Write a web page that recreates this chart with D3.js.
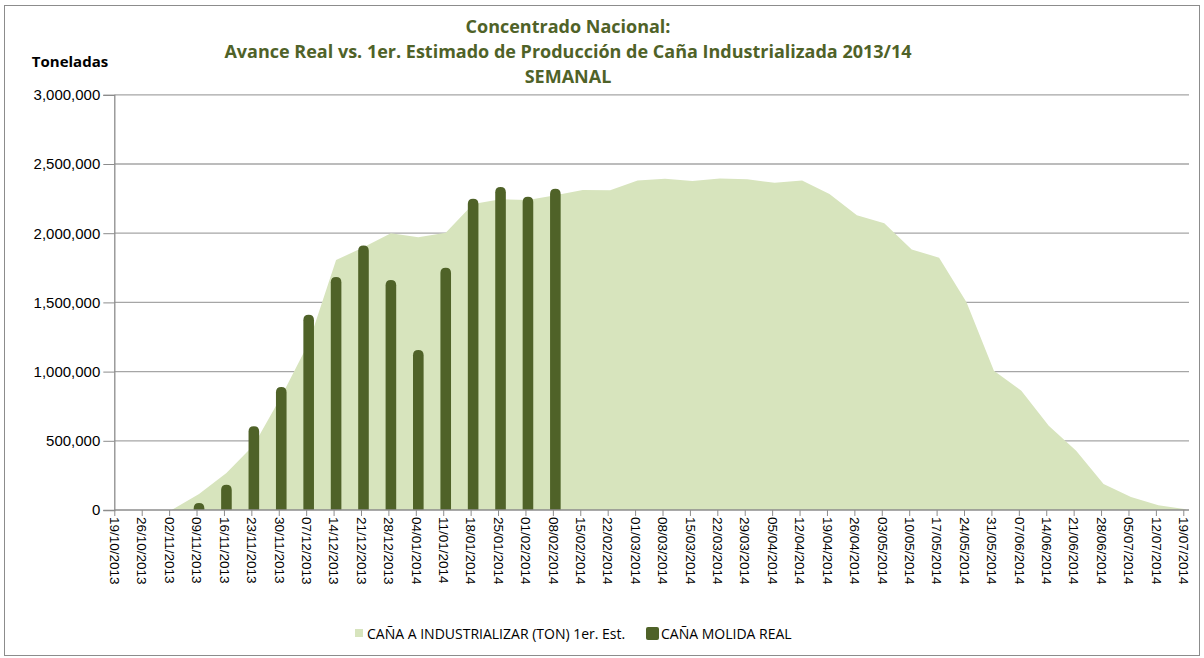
<!DOCTYPE html>
<html>
<head>
<meta charset="utf-8">
<script src="https://cdn.jsdelivr.net/npm/d3@7"></script>
<style>
  body { margin: 0; background: #fff; }
  svg { font-family: "Open Sans", "Noto Sans", sans-serif; }
</style>
</head>
<body>
<div id="vis"></div>
<script>
const FRAME_WIDTH = 1204;
const FRAME_HEIGHT = 658;
const MARGINS = {left: 114.3, right: 15, top: 94.8, bottom: 148};

// weekly categories
const weeks = ["19/10/2013","26/10/2013","02/11/2013","09/11/2013","16/11/2013","23/11/2013","30/11/2013",
  "07/12/2013","14/12/2013","21/12/2013","28/12/2013","04/01/2014","11/01/2014","18/01/2014","25/01/2014",
  "01/02/2014","08/02/2014","15/02/2014","22/02/2014","01/03/2014","08/03/2014","15/03/2014","22/03/2014",
  "29/03/2014","05/04/2014","12/04/2014","19/04/2014","26/04/2014","03/05/2014","10/05/2014","17/05/2014",
  "24/05/2014","31/05/2014","07/06/2014","14/06/2014","21/06/2014","28/06/2014","05/07/2014","12/07/2014",
  "19/07/2014"];

// CAÑA A INDUSTRIALIZAR (TON) 1er. Est.
const estimado = [0, 0, 0, 116000, 268000, 470000, 820000, 1206000, 1806000, 1898000, 1999000, 1970000,
  2004000, 2211000, 2245000, 2240000, 2274000, 2312000, 2310000, 2380000, 2394000, 2377000, 2396000,
  2389000, 2365000, 2380000, 2284000, 2129000, 2071000, 1883000, 1823000, 1501000, 1007000, 862000,
  609000, 429000, 188000, 94000, 34000, 5000];

// CAÑA MOLIDA REAL
const molida = [null, null, null, 51000, 183000, 606000, 888000, 1410000, 1683000, 1912000, 1662000,
  1156000, 1751000, 2249000, 2334000, 2264000, 2322000];

const yTicks = [0, 500000, 1000000, 1500000, 2000000, 2500000, 3000000];

const LIGHT = "#d7e4bd";
const DARK = "#4f6228";

const svg = d3.select("#vis").append("svg")
    .attr("width", FRAME_WIDTH)
    .attr("height", FRAME_HEIGHT);

// outer border
svg.append("rect")
    .attr("x", 4.5).attr("y", 5.5)
    .attr("width", 1195).attr("height", 650)
    .attr("fill", "none").attr("stroke", "#8c8c8c");

const VIS_BOTTOM = FRAME_HEIGHT - MARGINS.bottom;   // 510
const VIS_RIGHT = FRAME_WIDTH - MARGINS.right;       // 1189

const X_SCALE = d3.scalePoint()
    .domain(weeks)
    .range([MARGINS.left, MARGINS.left + 27.41 * (weeks.length - 1)]);
const DX = 2.5; // data points sit slightly right of the tick marks

const Y_SCALE = d3.scaleLinear()
    .domain([0, 3000000])
    .range([VIS_BOTTOM, MARGINS.top]);

// gridlines
svg.append("g")
    .selectAll("line")
    .data(yTicks.slice(1))
    .enter().append("line")
    .attr("x1", MARGINS.left).attr("x2", VIS_RIGHT)
    .attr("y1", d => Y_SCALE(d)).attr("y2", d => Y_SCALE(d))
    .attr("stroke", "#a6a6a6").attr("stroke-width", 1.3);

// area of the estimate
const area = d3.area()
    .x((d, i) => X_SCALE(weeks[i]) + DX)
    .y0(Y_SCALE(0))
    .y1(d => Y_SCALE(d))
    .defined((d, i) => i >= 2);

svg.append("path")
    .datum(estimado)
    .attr("d", area)
    .attr("fill", LIGHT);

// bars with rounded tops
const BAR_W = 10.6;
function barPath(x, y0, y1) {
  const r = Math.min(BAR_W / 2, (y0 - y1));
  const l = x - BAR_W / 2, rt = x + BAR_W / 2;
  return `M${l},${y0} L${l},${y1 + r} Q${l},${y1} ${l + r},${y1} L${rt - r},${y1} Q${rt},${y1} ${rt},${y1 + r} L${rt},${y0} Z`;
}

svg.append("g")
    .selectAll("path")
    .data(molida.map((v, i) => ({v, i})).filter(d => d.v != null))
    .enter().append("path")
    .attr("d", d => barPath(X_SCALE(weeks[d.i]) + DX, Y_SCALE(0), Y_SCALE(d.v)))
    .attr("fill", DARK);

// y axis
const yAxis = svg.append("g")
    .attr("transform", "translate(" + MARGINS.left + ",0)")
    .call(d3.axisLeft(Y_SCALE).tickValues(yTicks).tickSize(11).tickPadding(3)
      .tickFormat(d3.format(",")));
yAxis.select(".domain").attr("stroke", "#8c8c8c").attr("stroke-width", 1.3);
yAxis.selectAll(".tick line").attr("stroke", "#8c8c8c");
yAxis.selectAll("text").attr("font-size", "15px").attr("fill", "#000");

// x axis
const xAxis = svg.append("g")
    .attr("transform", "translate(0," + VIS_BOTTOM + ")")
    .call(d3.axisBottom(X_SCALE).tickSize(6).tickSizeOuter(0));
xAxis.select(".domain").attr("stroke", "#8c8c8c").attr("stroke-width", 1.3)
    .attr("d", `M${MARGINS.left},0H${VIS_RIGHT}`);
xAxis.selectAll(".tick line").attr("stroke", "#8c8c8c");
xAxis.selectAll("text")
    .attr("font-size", "13.5px").attr("fill", "#000")
    .attr("transform", "rotate(90)")
    .attr("x", 7).attr("y", 0).attr("dy", "0.35em")
    .attr("text-anchor", "start");

// titles
const titleLines = ["Concentrado Nacional:",
  "Avance Real vs. 1er. Estimado de Producción de Caña Industrializada 2013/14",
  "SEMANAL"];
svg.append("g")
    .selectAll("text")
    .data(titleLines)
    .enter().append("text")
    .attr("x", 568)
    .attr("y", (d, i) => 33 + i * 25)
    .attr("text-anchor", "middle")
    .attr("font-size", "18px").attr("font-weight", "bold")
    .attr("fill", DARK)
    .text(d => d);

svg.append("text")
    .attr("x", 70).attr("y", 67)
    .attr("text-anchor", "middle")
    .attr("font-size", "15px").attr("font-weight", "bold")
    .text("Toneladas");

// legend
const legend = svg.append("g").attr("font-size", "14px");
legend.append("rect").attr("x", 355).attr("y", 629).attr("width", 8).attr("height", 8).attr("fill", LIGHT);
legend.append("text").attr("x", 367).attr("y", 639).text("CAÑA A INDUSTRIALIZAR (TON) 1er. Est.");
legend.append("rect").attr("x", 646).attr("y", 627).attr("width", 13).attr("height", 13).attr("rx", 2).attr("fill", DARK);
legend.append("text").attr("x", 661).attr("y", 639).text("CAÑA MOLIDA REAL");
</script>
</body>
</html>
